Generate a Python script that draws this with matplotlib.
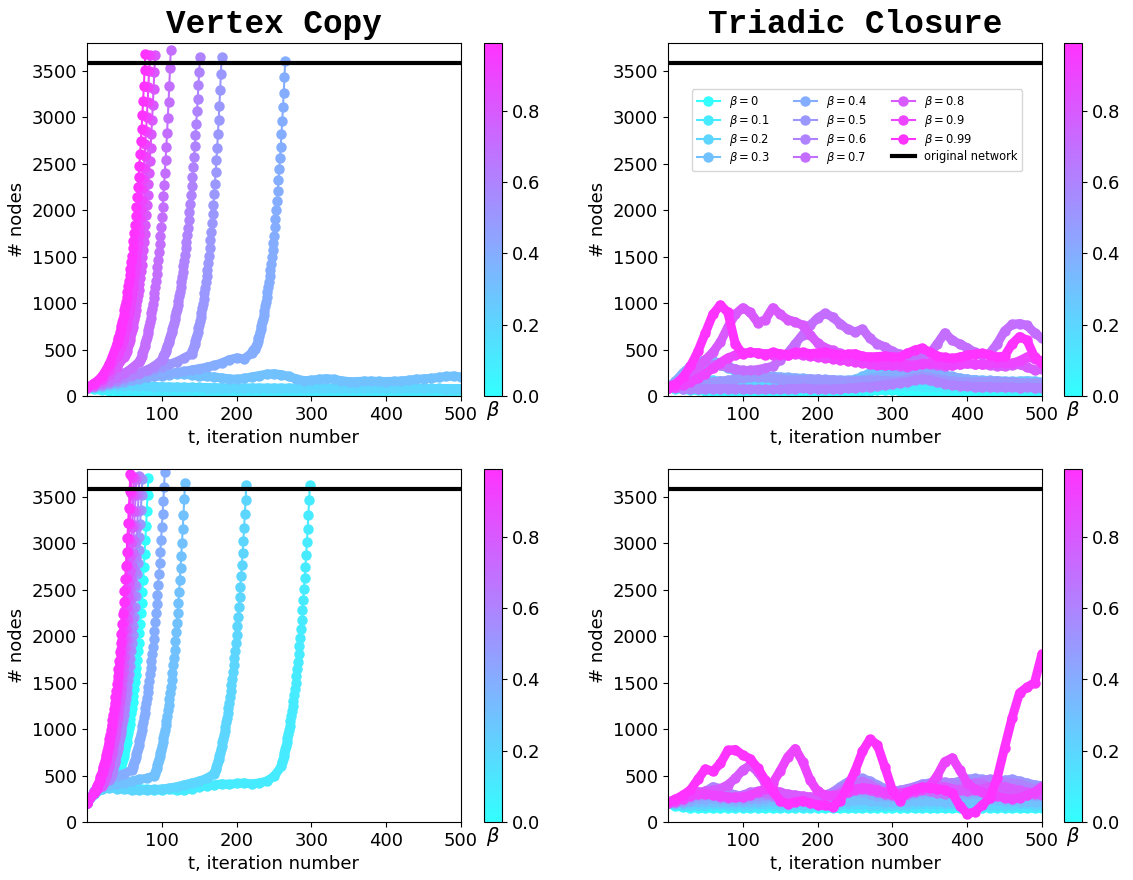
import numpy as np
import matplotlib
matplotlib.use('Agg')
import matplotlib.pyplot as plt
from matplotlib.colors import ListedColormap, Normalize
from matplotlib.cm import ScalarMappable

betas = [0, 0.1, 0.2, 0.3, 0.4, 0.5, 0.6, 0.7, 0.8, 0.9, 0.99]
original_size = 3590

# Vertex Copy curves: (values every 10 iterations from t=0,
#                      iteration where the take-off starts, values every iteration from there)
vc1_b0 = ([90, 70, 60, 55, 50, 47, 45, 43, 41, 40, 38, 37, 36, 35, 34, 33, 32, 31, 30, 30,
           29, 28, 28, 27, 27, 26, 26, 25, 25, 25, 24, 24, 24, 23, 23, 23, 22, 22, 22, 21,
           21, 21, 20, 20, 20, 20, 19, 19, 19, 19, 18], None, [])
vc1_b01 = ([90, 85, 80, 75, 70, 66, 62, 60, 58, 56, 55, 54, 53, 52, 51, 50, 50, 49, 49, 48,
            48, 47, 47, 46, 46, 46, 45, 45, 45, 44, 44, 44, 44, 43, 43, 43, 43, 42, 42, 42,
            42, 42, 41, 41, 41, 41, 41, 40, 40, 40, 40], None, [])
vc1_b02 = ([90, 95, 100, 104, 108, 110, 110, 108, 105, 102, 100, 98, 96, 94, 93, 92, 91, 90, 89, 88,
            88, 87, 87, 86, 86, 85, 85, 85, 84, 84, 84, 84, 83, 83, 83, 83, 82, 82, 82, 82,
            82, 82, 82, 81, 81, 81, 81, 81, 80, 80, 80], None, [])
vc1_b03 = ([90, 100, 115, 130, 145, 160, 175, 190, 200, 210, 220, 230, 237, 235, 225, 215, 210, 205, 195, 185,
            180, 190, 205, 220, 235, 240, 230, 210, 185, 165, 170, 180, 187, 180, 165, 155, 155, 160, 160, 158,
            156, 158, 162, 170, 180, 185, 190, 200, 210, 215, 205], None, [])
vc1_b04 = ([90, 100, 110, 125, 140, 155, 170, 185, 200, 215, 225, 240, 255, 265, 280, 295, 310, 330, 355, 390,
            410, 400, 460], 221,
           [478, 490, 500, 510, 520, 535, 562, 590, 620, 651, 684, 718, 754, 792, 832, 874, 918, 964, 1012, 1063,
            1116, 1172, 1231, 1293, 1358, 1426, 1498, 1573, 1648, 1725, 1816, 1905, 2002, 2102, 2210, 2325, 2440,
            2558, 2684, 2817, 2960, 3111, 3265, 3430, 3610])
vc1_b05 = ([90, 105, 120, 140, 160, 185, 210, 240, 265, 290, 315, 340, 370, 410, 455], 141,
           [480, 506, 533, 561, 591, 623, 656, 691, 728, 767, 808, 851, 896, 944, 994, 1048, 1104, 1163, 1225, 1290,
            1359, 1432, 1508, 1589, 1674, 1763, 1857, 1956, 2061, 2171, 2287, 2409, 2538, 2673, 2816, 2967, 3125,
            3292, 3468, 3653])
vc1_b06 = ([90, 108, 128, 150, 175, 200, 225, 250, 280, 320, 390], 101,
           [410, 428, 447, 467, 488, 510, 533, 557, 582, 608, 635, 663, 693, 724, 756, 790, 825, 862, 901, 941,
            983, 1027, 1073, 1121, 1171, 1223, 1278, 1335, 1395, 1457, 1522, 1590, 1661, 1736, 1813, 1894, 1979,
            2067, 2160, 2256, 2357, 2462, 2572, 2687, 2807, 2933, 3064, 3201, 3344, 3493, 3649])
vc1_b07 = ([90, 110, 135, 165, 200, 245, 300, 370], 71,
           [390, 412, 435, 460, 486, 514, 543, 573, 606, 640, 676, 715, 755, 798, 843, 891, 941, 994, 1051, 1110,
            1173, 1240, 1310, 1384, 1462, 1545, 1633, 1725, 1823, 1926, 2035, 2150, 2272, 2400, 2536, 2680, 2831,
            2992, 3161, 3340, 3529, 3729])
vc1_b08 = ([92, 115, 160, 225, 310, 420], 51,
           [440, 464, 489, 516, 544, 574, 605, 638, 673, 710, 748, 789, 832, 877, 925, 976, 1029, 1085, 1144, 1206,
            1272, 1341, 1414, 1491, 1573, 1658, 1749, 1844, 1945, 2051, 2162, 2280, 2404, 2535, 2674, 2819, 2973,
            3135, 3306, 3486, 3676])
vc1_b09 = ([95, 125, 185, 285, 430], 41,
           [450, 468, 487, 506, 525, 545, 573, 603, 634, 666, 701, 737, 775, 815, 857, 901, 947, 996, 1047, 1101,
            1158, 1217, 1280, 1346, 1415, 1488, 1565, 1645, 1730, 1819, 1913, 2011, 2115, 2224, 2338, 2459, 2585,
            2718, 2858, 3005, 3160, 3323, 3494, 3674])
vc1_b099 = ([95, 135, 210, 345, 560], 41,
            [590, 620, 651, 684, 719, 755, 794, 834, 876, 921, 968, 1017, 1068, 1123, 1180, 1240, 1303, 1369, 1438,
             1512, 1588, 1669, 1754, 1843, 1937, 2035, 2139, 2247, 2361, 2481, 2607, 2740, 2879, 3025, 3179, 3341,
             3510, 3681])

vc2_b0 = ([200, 310, 380, 420, 450], 41,
          [475, 499, 525, 552, 580, 610, 641, 674, 709, 745, 784, 824, 866, 911, 958, 1007, 1059, 1113, 1170, 1230,
           1294, 1360, 1430, 1503, 1581, 1662, 1747, 1837, 1931, 2031, 2135, 2245, 2360, 2481, 2609, 2743, 2884,
           3032, 3188, 3351, 3524, 3705])
vc2_b01 = ([200, 300, 360, 380, 375, 370, 365, 360, 350, 345, 345, 350, 340, 345, 360, 380, 390, 400, 410, 405,
            415, 420, 410, 420, 440, 490, 600], 261,
           [650, 681, 713, 747, 783, 820, 859, 900, 943, 988, 1035, 1084, 1136, 1190, 1246, 1306, 1368, 1433, 1501,
            1573, 1648, 1726, 1808, 1894, 1984, 2079, 2178, 2281, 2390, 2504, 2623, 2748, 2878, 3015, 3159, 3309,
            3467, 3632])
vc2_b02 = ([200, 300, 350, 370, 360, 350, 345, 340, 345, 350, 355, 365, 380, 400, 420, 440, 470, 520], 171,
           [545, 570, 596, 624, 653, 683, 714, 747, 782, 818, 856, 895, 937, 980, 1025, 1073, 1122, 1174, 1228, 1285,
            1344, 1406, 1471, 1539, 1610, 1685, 1762, 1844, 1929, 2018, 2111, 2209, 2311, 2418, 2529, 2646, 2768,
            2896, 3030, 3170, 3316, 3469, 3630])
vc2_b03 = ([200, 320, 380, 400, 410, 420, 440, 460, 470, 500], 91,
           [530, 556, 584, 612, 643, 674, 708, 743, 779, 818, 858, 900, 945, 992, 1041, 1092, 1146, 1202, 1262, 1324,
            1390, 1458, 1530, 1606, 1685, 1768, 1856, 1947, 2044, 2145, 2251, 2362, 2478, 2601, 2729, 2864, 3006,
            3154, 3310, 3474, 3645])
vc2_b04 = ([200, 330, 420, 470, 500, 520, 560], 61,
           [590, 616, 643, 671, 701, 732, 764, 798, 833, 869, 908, 948, 989, 1033, 1078, 1126, 1176, 1227, 1281,
            1338, 1397, 1458, 1523, 1590, 1660, 1733, 1809, 1889, 1973, 2060, 2150, 2245, 2344, 2448, 2556, 2668,
            2786, 2909, 3037, 3171, 3311, 3457, 3609, 3769])
vc2_b05 = ([200, 330, 430, 480], 31,
           [500, 524, 549, 575, 602, 631, 661, 692, 725, 760, 796, 834, 873, 915, 958, 1004, 1052, 1102, 1154, 1209,
            1266, 1327, 1390, 1456, 1525, 1598, 1674, 1753, 1837, 1924, 2016, 2112, 2212, 2318, 2428, 2543, 2665,
            2791, 2924, 3063, 3209, 3362, 3522, 3690])
vc2_b06 = ([200, 320, 410, 450], 31,
           [470, 496, 523, 551, 581, 613, 646, 681, 718, 758, 799, 842, 888, 937, 988, 1041, 1098, 1158, 1221, 1287,
            1358, 1432, 1510, 1592, 1679, 1770, 1866, 1968, 2075, 2188, 2308, 2433, 2566, 2706, 2853, 3009, 3173,
            3346, 3528, 3720])
vc2_b07 = ([200, 310, 400], 21,
           [415, 436, 457, 480, 504, 529, 555, 583, 612, 642, 674, 708, 743, 780, 819, 860, 903, 948, 995, 1044,
            1096, 1151, 1208, 1268, 1331, 1398, 1467, 1540, 1617, 1697, 1782, 1871, 1964, 2061, 2164, 2272, 2385,
            2503, 2628, 2759, 2896, 3040, 3192, 3350, 3517, 3692])
vc2_b08 = ([200, 310, 390], 21,
           [405, 427, 450, 474, 500, 527, 556, 586, 618, 651, 687, 724, 763, 804, 848, 894, 942, 993, 1047, 1104,
            1164, 1227, 1293, 1363, 1437, 1515, 1597, 1684, 1775, 1871, 1972, 2079, 2192, 2311, 2436, 2568, 2707,
            2854, 3008, 3171, 3343, 3524, 3715])
vc2_b09 = ([200, 315], 11,
           [330, 347, 364, 383, 402, 423, 444, 467, 490, 515, 541, 569, 597, 628, 659, 693, 728, 765, 803, 844,
            887, 932, 979, 1029, 1081, 1135, 1193, 1253, 1317, 1383, 1453, 1527, 1604, 1686, 1771, 1861, 1955,
            2054, 2158, 2268, 2383, 2503, 2630, 2763, 2903, 3050, 3205, 3367, 3538, 3717])
vc2_b099 = ([200, 320], 11,
            [335, 353, 371, 391, 412, 433, 456, 480, 506, 532, 560, 590, 621, 654, 688, 725, 763, 803, 846, 890,
             937, 987, 1039, 1093, 1151, 1212, 1276, 1343, 1414, 1488, 1567, 1649, 1736, 1828, 1924, 2025, 2132,
             2244, 2363, 2487, 2618, 2756, 2902, 3054, 3215, 3385, 3563, 3751])

# Triadic Closure curves: values every 10 iterations, t = 0 ... 500
tc1_b0 = [90, 80, 70, 65, 60, 55, 50, 48, 45, 42, 40, 40, 38, 36, 35, 35, 34, 33, 32, 30,
          30, 30, 32, 35, 40, 45, 50, 55, 60, 62, 60, 55, 50, 45, 40, 38, 35, 33, 30, 30,
          30, 28, 27, 26, 25, 25, 24, 24, 23, 22, 22]
tc1_b01 = [90, 95, 100, 105, 110, 110, 105, 100, 95, 92, 90, 88, 85, 85, 86, 88, 90, 92, 95, 98,
           100, 100, 98, 95, 92, 90, 88, 90, 95, 100, 105, 110, 108, 104, 100, 96, 92, 90, 88, 86,
           85, 84, 83, 82, 82, 81, 80, 80, 80, 79, 78]
tc1_b02 = [90, 110, 130, 150, 165, 175, 170, 160, 150, 140, 130, 125, 120, 118, 120, 125, 130, 128, 125, 120,
           115, 110, 105, 100, 98, 100, 110, 130, 160, 190, 210, 215, 205, 190, 175, 160, 150, 140, 135, 130,
           125, 120, 118, 115, 112, 110, 108, 110, 112, 110, 108]
tc1_b03 = [90, 150, 230, 300, 350, 370, 360, 330, 300, 270, 250, 230, 215, 200, 190, 180, 175, 170, 165, 160,
           155, 150, 150, 155, 165, 180, 210, 250, 280, 300, 310, 300, 280, 260, 240, 220, 205, 195, 190, 185,
           180, 175, 170, 168, 165, 160, 158, 160, 165, 160, 150]
tc1_b04 = [90, 160, 250, 320, 370, 390, 380, 350, 320, 290, 260, 240, 230, 220, 210, 205, 200, 195, 190, 185,
           180, 178, 175, 172, 170, 168, 175, 190, 200, 210, 215, 225, 240, 250, 255, 250, 240, 225, 210, 195,
           180, 170, 160, 150, 145, 140, 135, 130, 128, 125, 120]
tc1_b05 = [90, 100, 110, 120, 130, 140, 150, 160, 170, 180, 190, 200, 205, 200, 190, 180, 175, 170, 175, 180,
           180, 175, 170, 165, 160, 160, 165, 170, 170, 165, 160, 165, 180, 200, 210, 200, 185, 170, 160, 155,
           150, 150, 155, 160, 160, 155, 150, 145, 140, 140, 140]
tc1_b06 = [90, 85, 80, 78, 75, 75, 78, 80, 80, 78, 75, 72, 70, 70, 72, 75, 78, 80, 82, 80,
           78, 76, 75, 78, 82, 88, 95, 100, 110, 120, 130, 140, 150, 170, 180, 170, 150, 130, 120, 110,
           105, 100, 100, 98, 95, 95, 92, 90, 92, 90, 88]
tc1_b07 = [90, 110, 160, 230, 290, 320, 335, 330, 310, 290, 275, 275, 285, 300, 320, 390, 460, 560, 660, 760,
           840, 890, 850, 780, 720, 690, 720, 620, 560, 530, 480, 450, 400, 420, 440, 460, 560, 680, 600, 560,
           520, 470, 440, 460, 560, 700, 770, 780, 760, 680, 620]
tc1_b08 = [90, 100, 130, 200, 316, 390, 470, 580, 740, 880, 950, 900, 790, 820, 950, 880, 820, 800, 760, 660,
           570, 520, 490, 460, 440, 420, 400, 380, 350, 330, 330, 320, 310, 330, 350, 340, 330, 320, 330, 340,
           350, 340, 340, 330, 320, 320, 330, 340, 310, 280, 290]
tc1_b09 = [90, 100, 120, 150, 190, 240, 300, 360, 410, 440, 460, 470, 465, 455, 445, 440, 445, 450, 440, 430,
           420, 410, 400, 390, 380, 370, 355, 340, 330, 330, 335, 340, 335, 330, 345, 360, 350, 340, 335, 340,
           350, 345, 340, 350, 360, 355, 350, 380, 420, 400, 380]
tc1_b099 = [100, 130, 200, 320, 480, 680, 880, 980, 900, 560, 450, 470, 460, 445, 470, 455, 445, 470, 470, 455,
            465, 475, 455, 440, 450, 455, 430, 420, 425, 430, 420, 420, 460, 495, 515, 470, 430, 415, 405, 420,
            440, 450, 460, 440, 420, 430, 560, 640, 600, 420, 350]

tc2_b0 = [200, 170, 160, 155, 152, 150, 150, 152, 154, 155, 155, 154, 152, 150, 150, 150, 152, 154, 155, 155,
          154, 152, 150, 149, 148, 148, 150, 152, 154, 155, 155, 154, 152, 150, 150, 149, 148, 148, 150, 152,
          154, 155, 155, 154, 152, 150, 150, 149, 148, 148, 148]
tc2_b01 = [200, 180, 172, 170, 168, 168, 170, 170, 168, 166, 165, 165, 166, 168, 168, 166, 165, 164, 165, 166,
           168, 170, 170, 168, 166, 165, 165, 166, 168, 170, 170, 168, 166, 165, 164, 164, 165, 166, 168, 170,
           170, 168, 166, 165, 165, 166, 166, 165, 164, 164, 164]
tc2_b02 = [200, 190, 185, 185, 185, 188, 190, 190, 188, 185, 185, 188, 190, 192, 190, 188, 185, 185, 186, 188,
           190, 192, 194, 195, 195, 193, 190, 188, 186, 185, 185, 186, 188, 190, 192, 194, 195, 196, 195, 193,
           190, 188, 186, 185, 185, 186, 188, 190, 190, 188, 186]
tc2_b03 = [200, 200, 205, 210, 215, 220, 220, 215, 210, 210, 210, 215, 220, 225, 225, 220, 215, 210, 210, 210,
           212, 215, 220, 225, 230, 235, 235, 230, 225, 220, 215, 215, 220, 225, 230, 230, 225, 220, 220, 225,
           230, 235, 240, 240, 235, 230, 225, 220, 220, 215, 215]
tc2_b04 = [200, 205, 215, 230, 245, 250, 255, 250, 245, 240, 240, 245, 250, 260, 270, 265, 255, 250, 245, 240,
           240, 250, 270, 300, 320, 330, 320, 300, 285, 275, 270, 275, 285, 300, 310, 320, 325, 320, 310, 300,
           300, 310, 330, 350, 360, 350, 330, 310, 290, 280, 275]
tc2_b05 = [200, 210, 230, 260, 280, 290, 300, 290, 280, 270, 260, 270, 280, 290, 300, 290, 280, 270, 260, 255,
           260, 280, 320, 380, 430, 460, 470, 440, 400, 360, 340, 330, 350, 380, 410, 420, 410, 400, 420, 440,
           460, 470, 460, 450, 440, 450, 460, 440, 420, 400, 390]
tc2_b06 = [200, 220, 250, 280, 300, 330, 380, 360, 320, 290, 280, 290, 310, 300, 280, 270, 260, 250, 250, 260,
           270, 290, 320, 360, 400, 430, 440, 410, 370, 340, 330, 340, 360, 380, 400, 410, 420, 430, 420, 400,
           400, 420, 440, 460, 450, 430, 420, 410, 380, 360, 380]
tc2_b07 = [200, 220, 260, 300, 320, 310, 290, 270, 260, 270, 290, 320, 330, 320, 300, 280, 270, 260, 255, 250,
           250, 260, 280, 320, 380, 420, 430, 400, 350, 320, 300, 290, 300, 320, 340, 330, 310, 300, 320, 360,
           400, 420, 410, 380, 350, 320, 300, 280, 290, 320, 340]
tc2_b08 = [205, 230, 270, 300, 320, 330, 340, 360, 400, 470, 560, 610, 540, 420, 350, 320, 300, 290, 280, 270,
           270, 280, 290, 300, 320, 340, 350, 340, 320, 300, 290, 300, 320, 340, 360, 380, 390, 380, 360, 340,
           330, 340, 360, 380, 390, 380, 360, 340, 320, 300, 290]
tc2_b09 = [210, 225, 250, 280, 300, 300, 290, 280, 270, 265, 270, 290, 320, 360, 420, 550, 700, 790, 650, 450,
           330, 290, 280, 290, 320, 350, 370, 360, 340, 320, 300, 310, 320, 330, 350, 390, 500, 650, 690, 560,
           420, 350, 320, 300, 280, 260, 250, 260, 290, 320, 380]
tc2_b099 = [216, 245, 290, 345, 460, 570, 545, 630, 770, 780, 720, 680, 580, 450, 330, 230, 195, 215, 230, 205,
            185, 180, 165, 230, 380, 550, 760, 890, 830, 590, 340, 230, 320, 355, 375, 370, 360, 345, 310, 175,
            90, 110, 180, 260, 470, 800, 1120, 1390, 1450, 1500, 1810]

vc1 = [vc1_b0, vc1_b01, vc1_b02, vc1_b03, vc1_b04, vc1_b05, vc1_b06, vc1_b07, vc1_b08, vc1_b09, vc1_b099]
vc2 = [vc2_b0, vc2_b01, vc2_b02, vc2_b03, vc2_b04, vc2_b05, vc2_b06, vc2_b07, vc2_b08, vc2_b09, vc2_b099]
tc1 = [tc1_b0, tc1_b01, tc1_b02, tc1_b03, tc1_b04, tc1_b05, tc1_b06, tc1_b07, tc1_b08, tc1_b09, tc1_b099]
tc2 = [tc2_b0, tc2_b01, tc2_b02, tc2_b03, tc2_b04, tc2_b05, tc2_b06, tc2_b07, tc2_b08, tc2_b09, tc2_b099]

BMAX = 0.99
MS = 6.5


def soft(rgb):
    # cool colours, slightly washed out
    return 0.8 * np.asarray(rgb)[..., :3] + 0.2


def colour(b):
    return soft(plt.cm.cool(b / BMAX))


soft_cool = ListedColormap(soft(plt.cm.cool(np.linspace(0, 1, 256))))


def draw(ax, b, slow, start, fast):
    c = colour(b)
    ts = list(range(0, 10 * len(slow), 10))
    tf = list(range(start, start + len(fast))) if start is not None else []
    t = ts + tf
    n = list(slow) + list(fast)
    k = len(ts) + (1 if tf else 0)
    # thick band for the slowly varying part (dense markers in the original)
    ax.plot(t[:k], n[:k], '-', color=c, lw=MS, solid_capstyle='round', solid_joinstyle='round')
    ax.plot(t, n, 'o-', color=c, lw=1.5, ms=MS, label=r'$\beta = {}$'.format(b))


fig = plt.figure(figsize=(11.33, 8.8), dpi=100)
W, H = 1133, 880
boxes = [(87, 43), (668, 43), (87, 469), (668, 469)]
cb_x = [484, 1064, 484, 1064]
panels = [vc1, tc1, vc2, tc2]
titles = ['Vertex Copy', 'Triadic Closure', None, None]

for i in range(4):
    x0, y0 = boxes[i]
    ax = fig.add_axes([x0 / W, 1 - (y0 + 353) / H, 374 / W, 353 / H])
    data = panels[i]
    for b, d in zip(betas, data):
        if isinstance(d, tuple):
            draw(ax, b, *d)
        else:
            draw(ax, b, d, None, [])
    ax.axhline(original_size, color='black', lw=3, label='original network')
    ax.set_xlim(0, 500)
    ax.set_ylim(0, 3800)
    ax.set_xticks([100, 200, 300, 400, 500])
    ax.set_yticks(range(0, 3501, 500))
    ax.tick_params(labelsize=13)
    ax.set_xlabel('t, iteration number', fontsize=13)
    ax.set_ylabel('# nodes', fontsize=13)
    if titles[i]:
        ax.set_title(titles[i], fontsize=23.5, fontweight='bold', family='Liberation Mono', pad=7)
    if i == 1:
        ax.legend(ncol=3, fontsize=8.3, loc='upper left', bbox_to_anchor=(0.064, 0.869),
                  borderaxespad=0, labelspacing=0.25, columnspacing=2.1, handlelength=2.0)

    cax = fig.add_axes([cb_x[i] / W, 1 - (y0 + 353) / H, 18 / W, 353 / H])
    sm = ScalarMappable(norm=Normalize(0, BMAX), cmap=soft_cool)
    cb = fig.colorbar(sm, cax=cax, ticks=[0, 0.2, 0.4, 0.6, 0.8])
    cb.ax.tick_params(labelsize=13)
    cb.ax.set_xlabel(r'$\beta$', fontsize=14, labelpad=2)

fig.savefig('out.png', dpi=100)
